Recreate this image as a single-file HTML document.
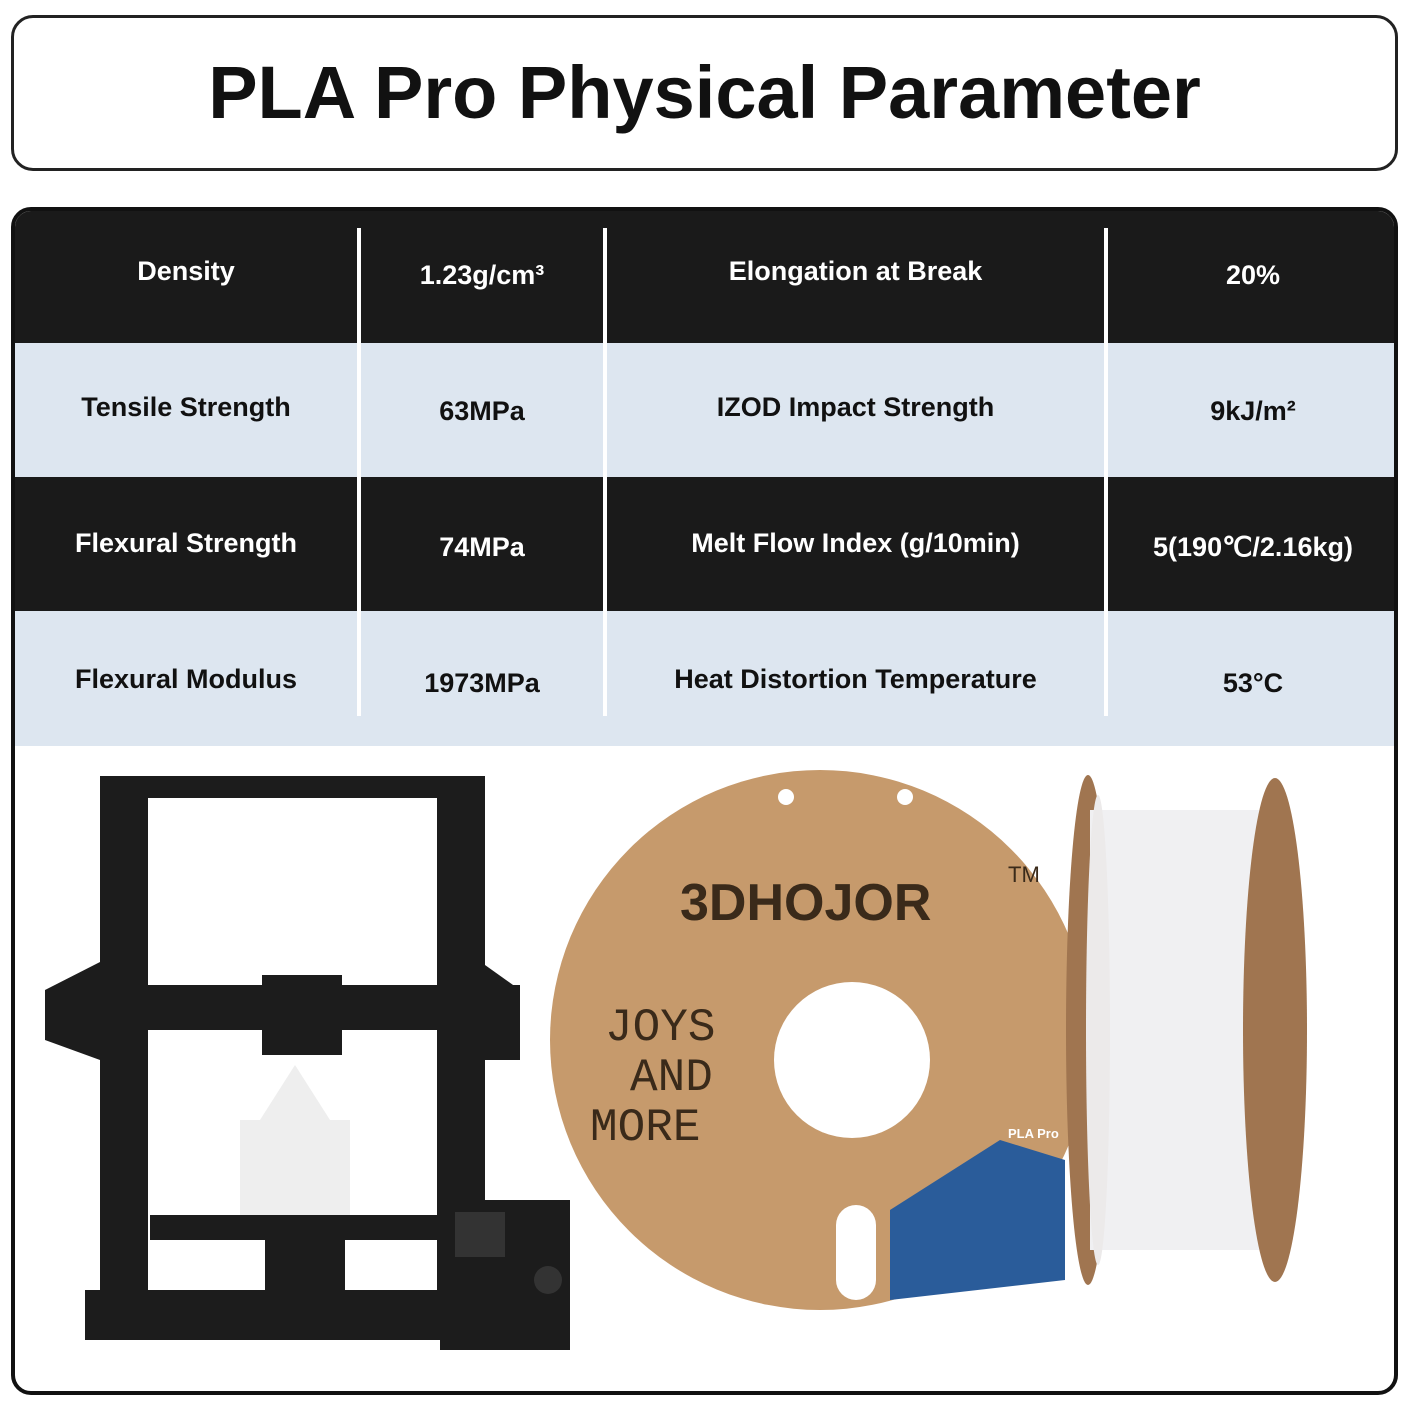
<!DOCTYPE html>
<html><head><style>
body{margin:0;width:1410px;height:1410px;background:#fff;position:relative;overflow:hidden;font-family:"Liberation Sans",sans-serif}
.title{position:absolute;left:11px;top:15px;width:1381px;height:150px;border:3px solid #222;border-radius:22px;text-align:center;line-height:150px;font-size:74px;font-weight:bold;color:#111}
.main{position:absolute;left:11px;top:207px;width:1379px;height:1180px;border:4px solid #111;border-radius:20px;overflow:hidden;background:#fff}
.row{position:absolute;left:0;width:100%}
.cell{position:absolute;text-align:center;font-weight:bold;font-size:27px}
.sep{position:absolute;top:17px;width:4px;height:488px;background:#fff}
</style></head><body>
<div class="title">PLA Pro Physical Parameter</div>
<div class="main">
<div class="row" style="top:0;height:132px;background:#1a1a1a"></div>
<div class="row" style="top:132px;height:134px;background:#dde6f0"></div>
<div class="row" style="top:266px;height:134px;background:#1a1a1a"></div>
<div class="row" style="top:400px;height:135px;background:#dde6f0"></div>
<div class="sep" style="left:342px"></div>
<div class="sep" style="left:588px"></div>
<div class="sep" style="left:1089px"></div>
<div style="position:absolute;left:0;top:-3px;width:100%">
<div class="cell" style="left:0;width:342px;top:48px;color:#fff">Density</div>
<div class="cell" style="left:346px;width:242px;top:52px;color:#fff">1.23g/cm³</div>
<div class="cell" style="left:592px;width:497px;top:48px;color:#fff">Elongation at Break</div>
<div class="cell" style="left:1093px;width:290px;top:52px;color:#fff">20%</div>
<div class="cell" style="left:0;width:342px;top:184px;color:#111">Tensile Strength</div>
<div class="cell" style="left:346px;width:242px;top:188px;color:#111">63MPa</div>
<div class="cell" style="left:592px;width:497px;top:184px;color:#111">IZOD Impact Strength</div>
<div class="cell" style="left:1093px;width:290px;top:188px;color:#111">9kJ/m²</div>
<div class="cell" style="left:0;width:342px;top:320px;color:#fff">Flexural Strength</div>
<div class="cell" style="left:346px;width:242px;top:324px;color:#fff">74MPa</div>
<div class="cell" style="left:592px;width:497px;top:320px;color:#fff">Melt Flow Index (g/10min)</div>
<div class="cell" style="left:1093px;width:290px;top:324px;color:#fff">5(190℃/2.16kg)</div>
<div class="cell" style="left:0;width:342px;top:456px;color:#111">Flexural Modulus</div>
<div class="cell" style="left:346px;width:242px;top:460px;color:#111">1973MPa</div>
<div class="cell" style="left:592px;width:497px;top:456px;color:#111">Heat Distortion Temperature</div>
<div class="cell" style="left:1093px;width:290px;top:460px;color:#111">53°C</div>
</div>
</div>
<svg style="position:absolute;left:0;top:0" width="1410" height="1410">
<g fill="#1c1c1c">
<rect x="100" y="776" width="385" height="22"/>
<rect x="100" y="776" width="48" height="560"/>
<rect x="437" y="776" width="48" height="560"/>
<polygon points="45,990 100,962 100,1060 45,1040"/>
<rect x="60" y="985" width="460" height="45"/>
<polygon points="485,965 520,990 520,1060 485,1060"/>
<rect x="262" y="975" width="80" height="80"/>
<rect x="150" y="1215" width="300" height="25"/>
<rect x="85" y="1290" width="400" height="50"/>
<rect x="440" y="1200" width="130" height="150"/>
<rect x="265" y="1240" width="80" height="60"/>
</g>
<rect x="455" y="1212" width="50" height="45" fill="#333"/>
<circle cx="548" cy="1280" r="14" fill="#333"/>
<g fill="#eee"><rect x="240" y="1120" width="110" height="95"/><polygon points="260,1120 295,1065 330,1120"/></g>
<circle cx="820" cy="1040" r="270" fill="#c69a6c"/>
<circle cx="852" cy="1060" r="78" fill="#fff"/>
<circle cx="786" cy="797" r="8" fill="#fff"/><circle cx="905" cy="797" r="8" fill="#fff"/>
<circle cx="797" cy="1330" r="8" fill="#fff"/><circle cx="915" cy="1330" r="8" fill="#fff"/>
<rect x="836" y="1205" width="40" height="95" rx="20" fill="#fff"/>
<polygon points="890,1210 1000,1140 1065,1160 1065,1280 890,1300" fill="#2a5c9a"/>
<text x="1008" y="1138" font-size="13" font-weight="bold" fill="#fff" font-family="Liberation Sans,sans-serif">PLA Pro</text>
<text x="680" y="920" font-size="52" font-weight="bold" fill="#3a2a1a" font-family="Liberation Sans,sans-serif">3DHOJOR</text>
<text x="1008" y="882" font-size="22" fill="#3a2a1a" font-family="Liberation Sans,sans-serif">TM</text>
<text x="605" y="1040" font-size="46" fill="#3a2a1a" font-family="Liberation Mono,monospace">JOYS</text>
<text x="630" y="1090" font-size="46" fill="#3a2a1a" font-family="Liberation Mono,monospace">AND</text>
<text x="590" y="1140" font-size="46" fill="#3a2a1a" font-family="Liberation Mono,monospace">MORE</text>
<ellipse cx="1088" cy="1030" rx="22" ry="255" fill="#a07550"/>
<rect x="1090" y="810" width="180" height="440" fill="#f0f0f2"/>
<ellipse cx="1275" cy="1030" rx="32" ry="252" fill="#a07550"/>
<ellipse cx="1098" cy="1030" rx="12" ry="235" fill="#eceaea"/>
</svg>
</body></html>
